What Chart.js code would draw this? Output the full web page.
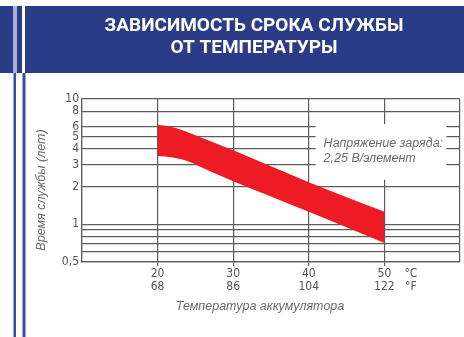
<!DOCTYPE html>
<html>
<head>
<meta charset="utf-8">
<script src="https://cdn.jsdelivr.net/npm/chart.js@4/dist/chart.umd.min.js"></script>
<style>
  html, body { margin: 0; padding: 0; background: #fff; }
  #wrap { width: 464px; height: 337px; position: relative; }
</style>
</head>
<body>
<div id="wrap"><canvas id="c"></canvas></div>
<script>
// Text
const titleLines = ['ЗАВИСИМОСТЬ СРОКА СЛУЖБЫ', 'ОТ ТЕМПЕРАТУРЫ'];
const yAxisTitle = 'Время службы (лет)';
const xAxisTitle = 'Температура аккумулятора';
const noteLines = ['Напряжение заряда:', '2,25 В/элемент'];

// Service life band (years) against battery temperature (°C)
const temperatureC = [20, 21, 22, 23, 24, 25, 26, 30, 40, 50];
const lifeUpper = [6.2, 6.11, 5.94, 5.71, 5.43, 5.14, 4.86, 3.9, 2.17, 1.26];
const lifeLower = [3.51, 3.48, 3.42, 3.32, 3.19, 3.02, 2.81, 2.21, 1.26, 0.71];

// Tick labels
const xTicksC = [20, 30, 40, 50];
const xTicksF = [68, 86, 104, 122];
const unitLabels = ['°C', '°F'];
const yGridValues = [0.5, 0.6, 0.7, 0.8, 0.9, 1, 2, 3, 4, 5, 6, 8, 10];
const yLabelValues = [0.5, 1, 2, 3, 4, 5, 6, 8, 10];
const yLabelTexts = ['0,5', '1', '2', '3', '4', '5', '6', '8', '10'];

const X_MIN = 10, X_MAX = 60, UNIT_TICK = 53.5;
const GRID = '#5c5c5c';
const TICK_TEXT = '#555';
const NOTE_TEXT = '#6a6a6a';
const BAND = '#2a3b88';
const RED = '#ed1c24';
const NARROW = "'Liberation Sans Narrow', 'DejaVu Sans Condensed', Arial, sans-serif";
const ITALIC_FONT = "italic 12.5px 'Liberation Sans', Arial, sans-serif";

const frame = {
  id: 'frame',
  beforeDraw(chart) {
    const ctx = chart.ctx;
    ctx.save();
    ctx.fillStyle = '#fff';
    ctx.fillRect(0, 0, chart.width, chart.height);
    ctx.fillStyle = BAND;
    ctx.fillRect(25, 6, chart.width - 25, 67);
    ctx.fillRect(0, 6, 13, 67);
    ctx.fillRect(17, 6, 5, 67);
    ctx.fillStyle = '#aab1d8';
    ctx.fillRect(13, 6, 4, 67);
    ctx.fillStyle = '#3b4da0';
    ctx.fillRect(13.5, 73, 2.5, chart.height - 73);
    ctx.fillRect(22.5, 73, 3, chart.height - 73);
    ctx.restore();
  }
};

const note = {
  id: 'note',
  beforeDatasetsDraw(chart) {
    const { ctx, scales: { x, y } } = chart;
    const left = x.getPixelForValue(40.9);
    const right = x.getPixelForValue(58.2);
    const top = y.getPixelForValue(6.3);
    const bottom = y.getPixelForValue(2.27);
    ctx.save();
    ctx.fillStyle = '#fff';
    ctx.fillRect(left, top, right - left, bottom - top);
    ctx.fillStyle = NOTE_TEXT;
    ctx.font = ITALIC_FONT;
    ctx.textAlign = 'left';
    ctx.textBaseline = 'middle';
    ctx.fillText(noteLines[0], left + 8, top + 19);
    ctx.fillText(noteLines[1], left + 8, top + 34);
    ctx.restore();
  },
  afterDraw(chart) {
    const ctx = chart.ctx;
    ctx.save();
    ctx.fillStyle = NOTE_TEXT;
    ctx.font = ITALIC_FONT;
    ctx.textAlign = 'center';
    ctx.textBaseline = 'middle';
    ctx.fillText(xAxisTitle, 260, 307);
    ctx.translate(42, 190);
    ctx.rotate(-Math.PI / 2);
    ctx.fillText(yAxisTitle, 0, 0);
    ctx.restore();
  }
};

const pts = (ys) => temperatureC.map((t, i) => ({ x: t, y: ys[i] }));

new Chart(document.getElementById('c'), {
  type: 'line',
  data: {
    datasets: [
      { data: pts(lifeUpper), borderWidth: 0, pointRadius: 0, fill: false,
        cubicInterpolationMode: 'monotone', borderColor: RED },
      { data: pts(lifeLower), borderWidth: 0, pointRadius: 0, fill: '-1',
        backgroundColor: RED, cubicInterpolationMode: 'monotone', borderColor: RED }
    ]
  },
  options: {
    responsive: true,
    maintainAspectRatio: false,
    animation: false,
    events: [],
    layout: { padding: { left: 48, right: 4, top: 0, bottom: 0 } },
    plugins: {
      legend: { display: false },
      tooltip: { enabled: false },
      title: {
        display: true,
        text: titleLines,
        color: '#fff',
        font: { family: "Roboto, 'Liberation Sans', sans-serif", size: 19, weight: 'bold', lineHeight: 1.18 },
        padding: { top: 15, bottom: 39.2 }
      }
    },
    scales: {
      x: {
        type: 'linear',
        min: X_MIN,
        max: X_MAX,
        afterFit(s) { s.height = 75; },
        afterBuildTicks(s) {
          s.ticks = [X_MIN, ...xTicksC, UNIT_TICK, X_MAX].map(v => ({ value: v }));
        },
        ticks: {
          autoSkip: false,
          maxRotation: 0,
          padding: 1,
          color: TICK_TEXT,
          font: { family: NARROW, size: 12, lineHeight: 1.1 },
          callback(v) {
            const i = xTicksC.indexOf(v);
            if (i >= 0) return [String(xTicksC[i]), String(xTicksF[i])];
            if (v === UNIT_TICK) return unitLabels;
            return '';
          }
        },
        grid: {
          color: (c) => (c.tick && c.tick.value === UNIT_TICK) ? 'rgba(0,0,0,0)' : GRID,
          tickColor: (c) => (c.tick && xTicksC.includes(c.tick.value)) ? GRID : 'rgba(0,0,0,0)',
          lineWidth: 1.2,
          tickLength: 4
        },
        border: { display: true, color: GRID, width: 1.2 }
      },
      y: {
        type: 'logarithmic',
        min: 0.5,
        max: 10,
        afterFit(s) { s.width = 34; },
        afterBuildTicks(s) {
          s.ticks = yGridValues.map(v => ({ value: v }));
        },
        ticks: {
          autoSkip: false,
          padding: 3,
          color: TICK_TEXT,
          font: { family: NARROW, size: 12 },
          callback(v) {
            const i = yLabelValues.indexOf(v);
            return i >= 0 ? yLabelTexts[i] : '';
          }
        },
        grid: { color: GRID, lineWidth: 1.2, drawTicks: false },
        border: { display: true, color: GRID, width: 1.2 }
      }
    }
  },
  plugins: [frame, note]
});
</script>
</body>
</html>
